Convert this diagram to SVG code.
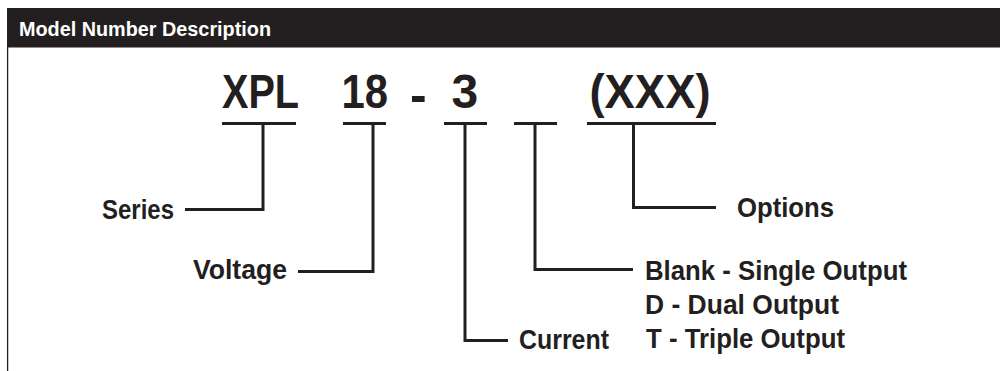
<svg xmlns="http://www.w3.org/2000/svg" width="1000" height="371" viewBox="0 0 1000 371">
<style>
  .bg{fill:#ffffff}
  .bar{fill:#231f20}
  .frame{stroke:#231f20;stroke-width:1.3;fill:none}
  .hdr{font-family:"Liberation Sans",Arial,sans-serif;font-weight:bold;font-size:19.5px;fill:#ffffff}
  .code{font-family:"Liberation Sans",Arial,sans-serif;font-weight:bold;font-size:48px;fill:#231f20}
  .lbl{font-family:"Liberation Sans",Arial,sans-serif;font-weight:bold;font-size:27px;fill:#231f20}
  .ul{stroke:#231f20;stroke-width:3;fill:none}
  .conn{stroke:#231f20;stroke-width:3;fill:none;stroke-linejoin:miter;stroke-linecap:butt}
</style>
<rect class="bg" x="0" y="0" width="1000" height="371"/>
<g id="frame">
  <rect class="bar" x="7" y="8" width="993" height="39.5"/>
  <line class="frame" x1="7.6" y1="47" x2="7.6" y2="371"/>
  <text class="hdr" x="19" y="36" textLength="252" lengthAdjust="spacingAndGlyphs">Model Number Description</text>
</g>
<g id="code-series">
  <text class="code" x="222" y="107.5" textLength="77" lengthAdjust="spacingAndGlyphs">XPL</text>
  <line class="ul" x1="222" y1="123.5" x2="296" y2="123.5"/>
</g>
<g id="code-voltage">
  <text class="code" x="341.5" y="107.5" textLength="46.5" lengthAdjust="spacingAndGlyphs">18</text>
  <line class="ul" x1="343" y1="123.5" x2="386" y2="123.5"/>
</g>
<g id="code-dash">
  <text class="code" x="410" y="111.5" style="font-size:50px">-</text>
</g>
<g id="code-current">
  <text class="code" x="451.5" y="107.5">3</text>
  <line class="ul" x1="444" y1="123.5" x2="487" y2="123.5"/>
</g>
<g id="code-output">
  <line class="ul" x1="514" y1="123.5" x2="557" y2="123.5"/>
</g>
<g id="code-options">
  <text class="code" x="589.5" y="107.5" textLength="121" lengthAdjust="spacingAndGlyphs">(XXX)</text>
  <line class="ul" x1="587" y1="123.5" x2="716" y2="123.5"/>
</g>
<g id="connectors">
  <polyline class="conn" points="263,123 263,209.5 185,209.5"/>
  <polyline class="conn" points="373,123 373,271.5 298,271.5"/>
  <polyline class="conn" points="465,123 465,340.5 508,340.5"/>
  <polyline class="conn" points="535,123 535,269.5 633,269.5"/>
  <polyline class="conn" points="633.5,123 633.5,207.5 716,207.5"/>
</g>
<g id="label-series"><text class="lbl" x="102" y="218.5" textLength="72" lengthAdjust="spacingAndGlyphs">Series</text></g>
<g id="label-voltage"><text class="lbl" x="193" y="279" textLength="94" lengthAdjust="spacingAndGlyphs">Voltage</text></g>
<g id="label-current"><text class="lbl" x="519" y="349.3" textLength="90" lengthAdjust="spacingAndGlyphs">Current</text></g>
<g id="label-options"><text class="lbl" x="737" y="216.5" textLength="97" lengthAdjust="spacingAndGlyphs">Options</text></g>
<g id="label-output">
  <text class="lbl" x="645" y="280" textLength="262" lengthAdjust="spacingAndGlyphs">Blank - Single Output</text>
  <text class="lbl" x="645" y="314" textLength="194" lengthAdjust="spacingAndGlyphs">D - Dual Output</text>
  <text class="lbl" x="646" y="347.5" textLength="199" lengthAdjust="spacingAndGlyphs">T - Triple Output</text>
</g>
</svg>
